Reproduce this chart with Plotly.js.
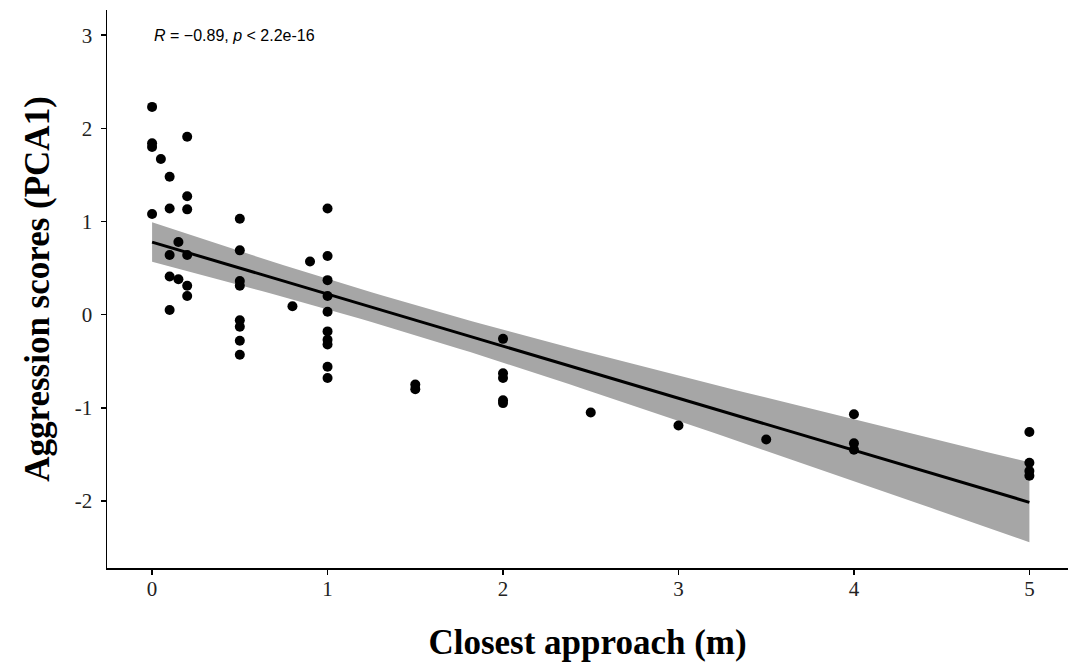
<!DOCTYPE html>
<html>
<head>
<meta charset="utf-8">
<script src="https://cdn.plot.ly/plotly-3.0.1.min.js"></script>
<style>html,body{margin:0;padding:0;background:#fff;}#chart{width:1068px;height:671px;}</style>
</head>
<body>
<div id="chart"></div>
<script>
// Closest approach (m)
const approach = [
  0, 0, 0, 0,
  0.05,
  0.1, 0.1, 0.1, 0.1, 0.1,
  0.15, 0.15,
  0.2, 0.2, 0.2, 0.2, 0.2, 0.2,
  0.5, 0.5, 0.5, 0.5, 0.5, 0.5, 0.5, 0.5,
  0.8,
  0.9,
  1, 1, 1, 1, 1, 1, 1, 1, 1, 1,
  1.5, 1.5,
  2, 2, 2, 2, 2,
  2.5,
  3,
  3.5,
  4, 4, 4,
  5, 5, 5, 5
];
// Aggression scores (PCA1)
const aggression = [
  2.23, 1.84, 1.80, 1.08,
  1.67,
  1.48, 1.14, 0.64, 0.41, 0.05,
  0.78, 0.38,
  1.91, 1.27, 1.13, 0.64, 0.31, 0.20,
  1.03, 0.69, 0.36, 0.31, -0.06, -0.13, -0.28, -0.43,
  0.09,
  0.57,
  1.14, 0.63, 0.37, 0.20, 0.03, -0.18, -0.27, -0.32, -0.56, -0.68,
  -0.75, -0.80,
  -0.26, -0.63, -0.68, -0.92, -0.95,
  -1.05,
  -1.19,
  -1.34,
  -1.07, -1.38, -1.45,
  -1.26, -1.59, -1.68, -1.73
];
const xTicks = [0, 1, 2, 3, 4, 5];
const yTicks = [-2, -1, 0, 1, 2, 3];
const corrText = "<i>R</i> = \u22120.89, <i>p</i> &lt; 2.2e-16";

// linear fit with 95% confidence band
const n = approach.length;
const xbar = approach.reduce((a, b) => a + b, 0) / n;
const ybar = aggression.reduce((a, b) => a + b, 0) / n;
let sxx = 0, sxy = 0;
for (let i = 0; i < n; i++) {
  sxx += (approach[i] - xbar) ** 2;
  sxy += (approach[i] - xbar) * (aggression[i] - ybar);
}
const slope = sxy / sxx;
const intercept = ybar - slope * xbar;
let sse = 0;
for (let i = 0; i < n; i++) sse += (aggression[i] - intercept - slope * approach[i]) ** 2;
const s = Math.sqrt(sse / (n - 2));
const tq = 2.01;
const xmin = Math.min(...approach), xmax = Math.max(...approach);
const gx = [], gy = [], gu = [], gl = [];
for (let k = 0; k <= 80; k++) {
  const x = xmin + (xmax - xmin) * k / 80;
  const y = intercept + slope * x;
  const se = s * Math.sqrt(1 / n + (x - xbar) ** 2 / sxx);
  gx.push(x); gy.push(y); gu.push(y + tq * se); gl.push(y - tq * se);
}

const traces = [
  {x: gx, y: gl, mode: 'lines', line: {width: 0, color: 'rgba(0,0,0,0)'}, hoverinfo: 'skip', showlegend: false},
  {x: gx, y: gu, mode: 'lines', fill: 'tonexty', fillcolor: '#a6a6a6', line: {width: 0, color: 'rgba(0,0,0,0)'}, hoverinfo: 'skip', showlegend: false},
  {x: approach, y: aggression, mode: 'markers', marker: {color: '#000', size: 10}, showlegend: false},
  {x: gx, y: gy, mode: 'lines', line: {color: '#000', width: 3}, showlegend: false}
];

const tickFont = {family: 'Liberation Serif, Times New Roman, serif', size: 21, color: '#222'};
const titleFont = {family: 'Liberation Serif, Times New Roman, serif', size: 35, color: '#000', weight: 'bold'};

const layout = {
  width: 1068, height: 671,
  margin: {l: 107, r: 0, t: 10, b: 103},
  paper_bgcolor: '#fff', plot_bgcolor: '#fff',
  xaxis: {
    range: [-0.257, 5.22], tickvals: xTicks, ticktext: xTicks.map(String),
    showgrid: false, zeroline: false, showline: true, linecolor: '#000', linewidth: 1.5,
    ticks: 'outside', ticklen: 5, tickwidth: 1.5, tickcolor: '#000', tickfont: tickFont,
    ticklabelstandoff: -4,
    title: {text: '<b>Closest approach (m)</b>', font: titleFont, standoff: 30}
  },
  yaxis: {
    range: [-2.72, 3.27], tickvals: yTicks, ticktext: yTicks.map(String),
    showgrid: false, zeroline: false, showline: true, linecolor: '#000', linewidth: 1.5,
    ticks: 'outside', ticklen: 5, tickwidth: 1.5, tickcolor: '#000', tickfont: tickFont,
    ticklabelstandoff: 4,
    title: {text: '<b>Aggression scores (PCA1)</b>', font: titleFont, standoff: 14}
  },
  annotations: [{
    x: 0, y: 3, xref: 'x', yref: 'y', text: corrText, showarrow: false,
    xanchor: 'left', yanchor: 'middle',
    font: {family: 'Liberation Sans, Arial, sans-serif', size: 16, color: '#000'}
  }]
};

Plotly.newPlot('chart', traces, layout, {staticPlot: true, displayModeBar: false});
</script>
</body>
</html>
